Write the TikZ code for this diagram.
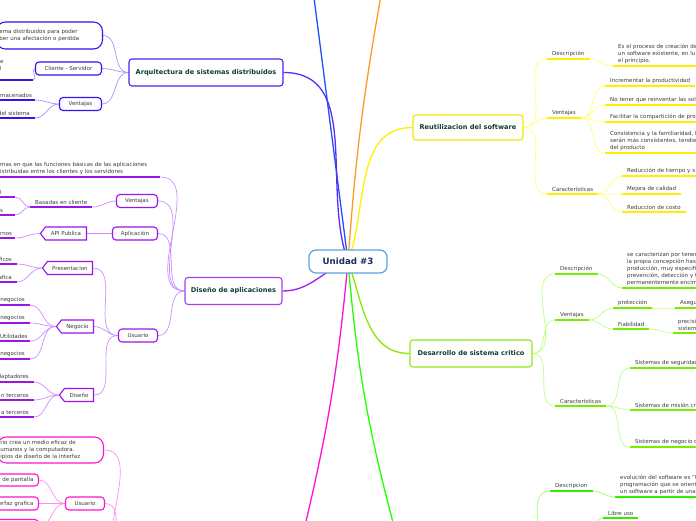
\documentclass[tikz,border=0pt]{standalone}
\usepackage{fontspec}
\setmainfont{DejaVu Sans}
\usetikzlibrary{positioning,shapes.symbols,backgrounds}
\definecolor{hubframe}{HTML}{5AA4E0}
\definecolor{hubtext}{HTML}{1B2F5C}
\definecolor{topictext}{HTML}{0E3D35}
\definecolor{labeltext}{HTML}{3C3C3C}
\definecolor{hubline}{HTML}{1E50FF}
\definecolor{orangeline}{HTML}{FF9A1F}
\definecolor{arqline}{HTML}{5B2CF5}
\definecolor{arqbox}{HTML}{4B22F2}
\definecolor{arqsub}{HTML}{3A0FF0}
\definecolor{arqlink}{HTML}{A496FF}
\definecolor{disline}{HTML}{9A1FF0}
\definecolor{disbox}{HTML}{A340F0}
\definecolor{dissub}{HTML}{9A14EC}
\definecolor{dislink}{HTML}{CC8FFF}
\definecolor{magline}{HTML}{FF10D8}
\definecolor{magsub}{HTML}{FF12D2}
\definecolor{maglink}{HTML}{FF8FEE}
\definecolor{reuline}{HTML}{FFF000}
\definecolor{reubox}{HTML}{F5E600}
\definecolor{reubar}{HTML}{FFEE00}
\definecolor{reulink}{HTML}{FFFF7A}
\definecolor{desline}{HTML}{88E800}
\definecolor{desbox}{HTML}{8EE81A}
\definecolor{desbar}{HTML}{77EE00}
\definecolor{deslink}{HTML}{BDFF85}
\definecolor{limeline}{HTML}{22FF00}
\definecolor{limebar}{HTML}{33EE00}
\definecolor{limelink}{HTML}{99FF77}
\newcommand\leaffont{\fontsize{5.5}{6.8}\selectfont\hyphenpenalty=10000}
\tikzset{hub/.style={draw=hubframe,line width=1.2pt,fill=white,rounded corners=7pt,minimum width=78pt,minimum height=23pt,text=hubtext,font=\bfseries\fontsize{8.7}{10}\selectfont}}
\tikzset{topic/.style={draw=#1,line width=1.1pt,fill=white,rounded corners=3pt,minimum height=27pt,inner xsep=2pt,text=topictext,font=\bfseries\fontsize{6.6}{8}\selectfont}}
\tikzset{subbox/.style={draw=#1,line width=1.1pt,fill=white,rounded corners=3.5pt,minimum height=13pt,inner sep=1pt,text=labeltext,font=\leaffont,anchor=east}}
\tikzset{tagbox/.style={subbox=#1,rounded corners=0pt,signal,signal to=west,signal pointer angle=105}}
\tikzset{pill/.style={draw=#1,line width=1.1pt,fill=white,rounded corners=9pt,inner xsep=3pt,inner ysep=2pt,text width=100pt,align=left,text=labeltext,font=\leaffont,anchor=east}}
\tikzset{leaf/.style={anchor=south west,inner xsep=5pt,inner ysep=2.5pt,align=left,text=labeltext,font=\leaffont,
  append after command={(\tikzlastnode.south west) edge[draw=#1,line width=1.5pt] (\tikzlastnode.south east)}}}
\tikzset{cutleaf/.style={leaf=#1,anchor=south east,text width=70pt,align=right}}
\tikzset{link/.style={draw=#1,line width=0.7pt}}
\tikzset{branch/.style={draw=#1,line width=1.3pt}}
\tikzset{leftward/.style={out=180,in=0},rightward/.style={out=0,in=180}}

\begin{document}
\begin{tikzpicture}[x=1pt,y=-1pt]
\useasboundingbox (0,0) rectangle (696,520);
\clip (0,0) rectangle (696,520);

\node[hub] (unit) at (348,261.5) {Unidad \#3};

% Arquitectura de sistemas distribuidos
\node[topic=arqbox,minimum width=154pt] (arq) at (206,72.5) {Arquitectura de sistemas distribuidos};
\node[pill=arqsub,minimum height=27pt] (arqtxt) at (103,35.5) {ema distribuidos para poder\\ber una afectación o perdida};
\node[subbox=arqsub,minimum width=66pt] (clise) at (102,68.5) {Cliente - Servidor};
\node[subbox=arqsub,minimum width=42pt] (arqven) at (102,104) {Ventajas};
\node[leaf=arqsub,text width=28pt] (clise1) at (-5,80) {e\\l\\\mbox{}};
\node[leaf=arqsub,text width=30pt] (arqven1) at (-5,100) {macenados};
\node[cutleaf=arqsub] (arqven2) at (35,118) {del sistema};

% Diseño de aplicaciones
\node[topic=disbox,minimum width=97pt] (dis) at (233.5,291) {Diseño de aplicaciones};
\node[leaf=dissub,text width=155pt] (dis1) at (-5,177) {mas en que las funciones básicas de las aplicaciones\\istribuidas entre los clientes y los servidores};
\node[subbox=dissub,minimum width=41pt] (disven) at (158,201) {Ventajas};
\node[leaf=dissub] (basad) at (30,207) {Basadas en cliente};
\node[leaf=dissub,text width=10pt] (basad1) at (-5,197) {l};
\node[leaf=dissub,text width=10pt] (basad2) at (-5,215) {s};
\node[subbox=dissub,minimum width=45pt] (aplic) at (158,233.5) {Aplicación};
\node[tagbox=dissub,minimum width=46pt] (api) at (87,233.5) {API Publica};
\node[leaf=dissub,text width=10pt] (api1) at (-5,238) {rnos};
\node[subbox=dissub,minimum width=39pt] (disusu) at (158,335.5) {Usuario};
\node[tagbox=dissub,minimum width=50pt] (pres) at (93,268) {Presentacion};
\node[cutleaf=dissub] (pres1) at (17,264) {ficos};
\node[cutleaf=dissub] (pres2) at (17,282) {afica};
\node[tagbox=dissub,minimum width=37pt] (neg) at (94,326.5) {Negocio};
\node[cutleaf=dissub] (neg1) at (30,305) {negocios};
\node[cutleaf=dissub] (neg2) at (30,323) {negocios};
\node[leaf=dissub,text width=25pt] (neg3) at (-5,341) {Utilidades};
\node[cutleaf=dissub] (neg4) at (30,359) {negocios};
\node[tagbox=dissub,minimum width=34pt] (disen) at (94,395) {Diseño};
\node[cutleaf=dissub] (disen1) at (34,382) {daptadores};
\node[cutleaf=dissub] (disen2) at (34,400) {n terceros};
\node[cutleaf=dissub] (disen3) at (34,417) {a terceros};

% rama magenta
\node[pill=magsub,minimum height=26pt] (magtxt) at (104,450) {rio crea un medio eficaz de\\umanos y la computadora.\\ipios de diseño de la interfaz};
\node[subbox=magsub,minimum width=39pt] (magusu) at (105,503.5) {Usuario};
\node[subbox=magsub,inner xsep=5pt,text width=60pt,align=right,minimum height=12pt] (pant) at (39,480) {r de pantalla};
\node[subbox=magsub,inner xsep=5pt,text width=60pt,align=right,minimum height=13pt] (graf) at (39,503.5) {erfaz grafica};
\node[subbox=magsub,minimum width=50pt,minimum height=13pt] (pant3) at (39,526) {};

% Reutilizacion del software
\node[topic=reubox,minimum width=110pt,minimum height=25pt] (reu) at (468,127.5) {Reutilizacion del software};
\node[leaf=reubar] (reudes) at (547,59) {Descripción};
\node[leaf=reubar,text width=100pt] (reudes1) at (613,66) {Es el proceso de creación de\\un software existente, en lu\\el principio.};
\node[leaf=reubar] (reuven) at (547,118) {Ventajas};
\node[leaf=reubar] (reuven1) at (605,86) {Incrementar la productividad};
\node[leaf=reubar,text width=100pt] (reuven2) at (605,105) {No tener que reinventar las sol};
\node[leaf=reubar,text width=100pt] (reuven3) at (605,122) {Facilitar la compartición de pro};
\node[leaf=reubar,text width=100pt] (reuven4) at (605,153) {Consistencia y la familiaridad, l\\serán más consistentes, tendie\\del producto};
\node[leaf=reubar] (reucar) at (547,194) {Características};
\node[leaf=reubar,text width=100pt] (reucar1) at (622,176) {Reducción de tiempo y s};
\node[leaf=reubar] (reucar2) at (622,194) {Mejora de calidad};
\node[leaf=reubar] (reucar3) at (622,212) {Reduccion de costo};

% Desarrollo de sistema critico
\node[topic=desbox,minimum width=122pt] (des) at (471,353.5) {Desarrollo de sistema critico};
\node[leaf=desbar] (desdes) at (555,274) {Descripción};
\node[leaf=desbar,text width=100pt] (desdes1) at (622,288) {se caracterizan por tener\\la propia concepción hast\\producción, muy especifi\\prevención, detección y t\\permanentemente encim};
\node[leaf=desbar] (desven) at (555,320) {Ventajas};
\node[leaf=desbar] (desven1) at (613,308) {protección};
\node[leaf=desbar,text width=40pt] (desven1a) at (675,308) {Asegu};
\node[leaf=desbar] (desven2) at (613,329) {Fiabilidad};
\node[leaf=desbar,text width=40pt] (desven2a) at (673,333) {precisi\\sistema};
\node[leaf=desbar] (descar) at (555,406) {Características};
\node[leaf=desbar,text width=80pt] (descar1) at (630,368) {Sistemas de seguridad};
\node[leaf=desbar,text width=80pt] (descar2) at (630,410) {Sistemas de misión cr};
\node[leaf=desbar,text width=80pt] (descar3) at (630,447) {Sistemas de negocio c};

% rama verde inferior
\node[leaf=limebar] (limdes) at (550,491) {Descripcion};
\node[leaf=limebar,text width=100pt] (limdes1) at (615,497) {evolución del software es "t\\programación que se orient\\un software a partir de una};
\node[leaf=limebar] (limuso) at (603,518) {Libre uso};

\coordinate (upblue) at (313,-10);
\coordinate (uporange) at (382,-10);
\coordinate (downpink) at (304,530);
\coordinate (downlime) at (395,530);
\coordinate (pinkroot) at (128,560);
\coordinate (limeroot) at (528,570);
\coordinate (limesub) at (585,545);

\begin{scope}[on background layer]
  \fill[white] (0,0) rectangle (696,520);
  \clip (0,0) rectangle (696,520);
  \draw[branch=hubline] (unit.center) -- (upblue);
  \draw[branch=orangeline] (unit.center) to[bend left=3] (uporange);
  \draw[branch=magline] (unit.center) to[bend left=4] (downpink);
  \draw[branch=limeline] (unit.center) to[bend right=5] (downlime);
  \draw[branch=arqline] (arq.east) to[out=0,in=110] (unit.center);
  \draw[branch=disline] (dis.east) to[out=0,in=200] (unit.center);
  \draw[branch=reuline] (reu.west) to[out=180,in=70] (unit.center);
  \draw[branch=desline] (des.west) to[out=180,in=-70] (unit.center);

  \draw[link=arqlink] (arq.west) edge[leftward] (arqtxt.east) edge[leftward] (clise.east) edge[leftward] (arqven.east);
  \draw[link=arqlink] (clise.west) edge[leftward] (clise1.south east);
  \draw[link=arqlink] (arqven.west) edge[leftward] (arqven1.south east) edge[leftward] (arqven2.south east);

  \draw[link=dislink] (dis.west) edge[leftward] (dis1.south east) edge[leftward] (disven.east)
    edge[leftward] (aplic.east) edge[leftward] (disusu.east);
  \draw[link=dislink] (disven.west) edge[leftward] (basad.south east);
  \draw[link=dislink] (basad.south west) edge[leftward] (basad1.south east) edge[leftward] (basad2.south east);
  \draw[link=dislink] (aplic.west) -- (api.east);
  \draw[link=dislink] (api.west) edge[leftward] (api1.south east);
  \draw[link=dislink] (disusu.west) edge[leftward] (pres.east) edge[leftward] (neg.east) edge[leftward] (disen.east);
  \draw[link=dislink] (pres.west) edge[leftward] (pres1.south east) edge[leftward] (pres2.south east);
  \draw[link=dislink] (neg.west) edge[leftward] (neg1.south east) edge[leftward] (neg2.south east)
    edge[leftward] (neg3.south east) edge[leftward] (neg4.south east);
  \draw[link=dislink] (disen.west) edge[leftward] (disen1.south east) edge[leftward] (disen2.south east)
    edge[leftward] (disen3.south east);

  \draw[link=maglink] (pinkroot) edge[out=180,in=0] (magtxt.east) edge[out=180,in=0] (magusu.east);
  \draw[link=maglink] (magusu.west) edge[leftward] (pant.east) edge[leftward] (graf.east) edge[leftward] (pant3.east);

  \draw[link=reulink] (reu.east) edge[rightward] (reudes.south west) edge[rightward] (reuven.south west)
    edge[rightward] (reucar.south west);
  \draw[link=reulink] (reudes.south east) edge[rightward] (reudes1.south west);
  \draw[link=reulink] (reuven.south east) edge[rightward] (reuven1.south west) edge[rightward] (reuven2.south west)
    edge[rightward] (reuven3.south west) edge[rightward] (reuven4.south west);
  \draw[link=reulink] (reucar.south east) edge[rightward] (reucar1.south west) edge[rightward] (reucar2.south west)
    edge[rightward] (reucar3.south west);

  \draw[link=deslink] (des.east) edge[rightward] (desdes.south west) edge[rightward] (desven.south west)
    edge[rightward] (descar.south west);
  \draw[link=deslink] (desdes.south east) edge[rightward] (desdes1.south west);
  \draw[link=deslink] (desven.south east) edge[rightward] (desven1.south west) edge[rightward] (desven2.south west);
  \draw[link=deslink] (desven1.south east) edge[rightward] (desven1a.south west);
  \draw[link=deslink] (desven2.south east) edge[rightward] (desven2a.south west);
  \draw[link=deslink] (descar.south east) edge[rightward] (descar1.south west) edge[rightward] (descar2.south west)
    edge[rightward] (descar3.south west);

  \draw[link=limelink] (limeroot) edge[rightward] (limdes.south west);
  \draw[link=limelink] (limdes.south east) edge[rightward] (limdes1.south west);
  \draw[link=limelink] (limesub) edge[rightward] (limuso.south west);
\end{scope}
\end{tikzpicture}
\end{document}
